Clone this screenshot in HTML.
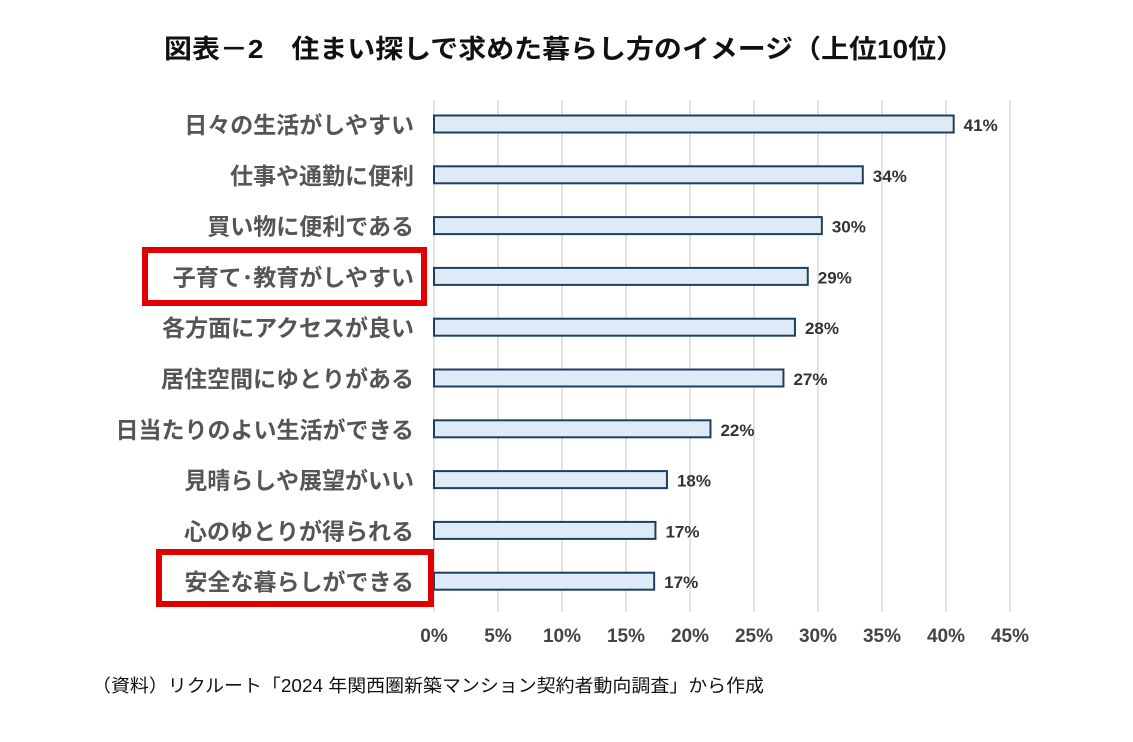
<!DOCTYPE html>
<html><head><meta charset="utf-8">
<style>
body{margin:0;background:#fff;width:1133px;height:737px;overflow:hidden;font-family:"Liberation Sans","Noto Sans CJK JP",sans-serif;}
svg text{font-family:"Liberation Sans","Noto Sans CJK JP",sans-serif;}
</style></head>
<body>
<svg id="chart" width="1133" height="737" xmlns="http://www.w3.org/2000/svg">
<text x="564" y="58" text-anchor="middle" font-size="26" font-weight="bold" fill="#111" textLength="800" lengthAdjust="spacingAndGlyphs">図表－2　住まい探しで求めた暮らし方のイメージ（上位10位）</text>
<g id="grid"></g>
<g id="bars"></g>
<g id="labels"></g>
<rect x="145" y="250" width="279" height="53" fill="none" stroke="#e00000" stroke-width="6"/>
<rect x="159" y="552" width="272" height="52" fill="none" stroke="#e00000" stroke-width="6"/>
<text x="92" y="692" font-size="18" fill="#111" textLength="672" lengthAdjust="spacingAndGlyphs">（資料）リクルート「2024 年関西圏新築マンション契約者動向調査」から作成</text>
</svg>
<script>
const categories=["日々の生活がしやすい","仕事や通勤に便利","買い物に便利である","子育て･教育がしやすい","各方面にアクセスが良い","居住空間にゆとりがある","日当たりのよい生活ができる","見晴らしや展望がいい","心のゆとりが得られる","安全な暮らしができる"];
const values=[40.6,33.5,30.3,29.2,28.2,27.3,21.6,18.2,17.3,17.2];
const valueLabels=["41%","34%","30%","29%","28%","27%","22%","18%","17%","17%"];
const ticks=[0,5,10,15,20,25,30,35,40,45];
const tickLabels=["0%","5%","10%","15%","20%","25%","30%","35%","40%","45%"];
const NS="http://www.w3.org/2000/svg";
const x0=434, pxPer=12.8;
function xs(v){return x0+v*pxPer;}
function yc(i){return 124+i*50.8;}
function mk(t,a,p){const e=document.createElementNS(NS,t);for(const k in a)e.setAttribute(k,a[k]);p.appendChild(e);return e;}
const grid=document.getElementById('grid'),bars=document.getElementById('bars'),labels=document.getElementById('labels');
ticks.forEach((t,i)=>{
  const l=mk('line',{x1:xs(t),x2:xs(t),y1:100,y2:612,stroke:'#d9d9d9','stroke-width':1.5},grid);
  
  
  const tx=mk('text',{x:xs(t),y:642,'text-anchor':'middle','font-size':19,'font-weight':'bold',fill:'#444'},labels);
  tx.textContent=tickLabels[i];
  
  
});
categories.forEach((c,i)=>{
  const y=yc(i);
  const r=mk('rect',{x:x0,y:y-8.5,width:xs(values[i])-x0,height:17,fill:'#deebf7',stroke:'#1f3f60','stroke-width':2},bars);
  
  
  const v=mk('text',{x:xs(values[i])+10,y:y+7,'font-size':17,'font-weight':'bold',fill:'#333'},labels);
  v.textContent=valueLabels[i];
  
  
  const cl=mk('text',{x:414,y:y+9,'text-anchor':'end','font-size':23,'font-weight':'bold',fill:'#555'},labels);
  cl.textContent=c;
  
  
});
</script>
</body></html>
